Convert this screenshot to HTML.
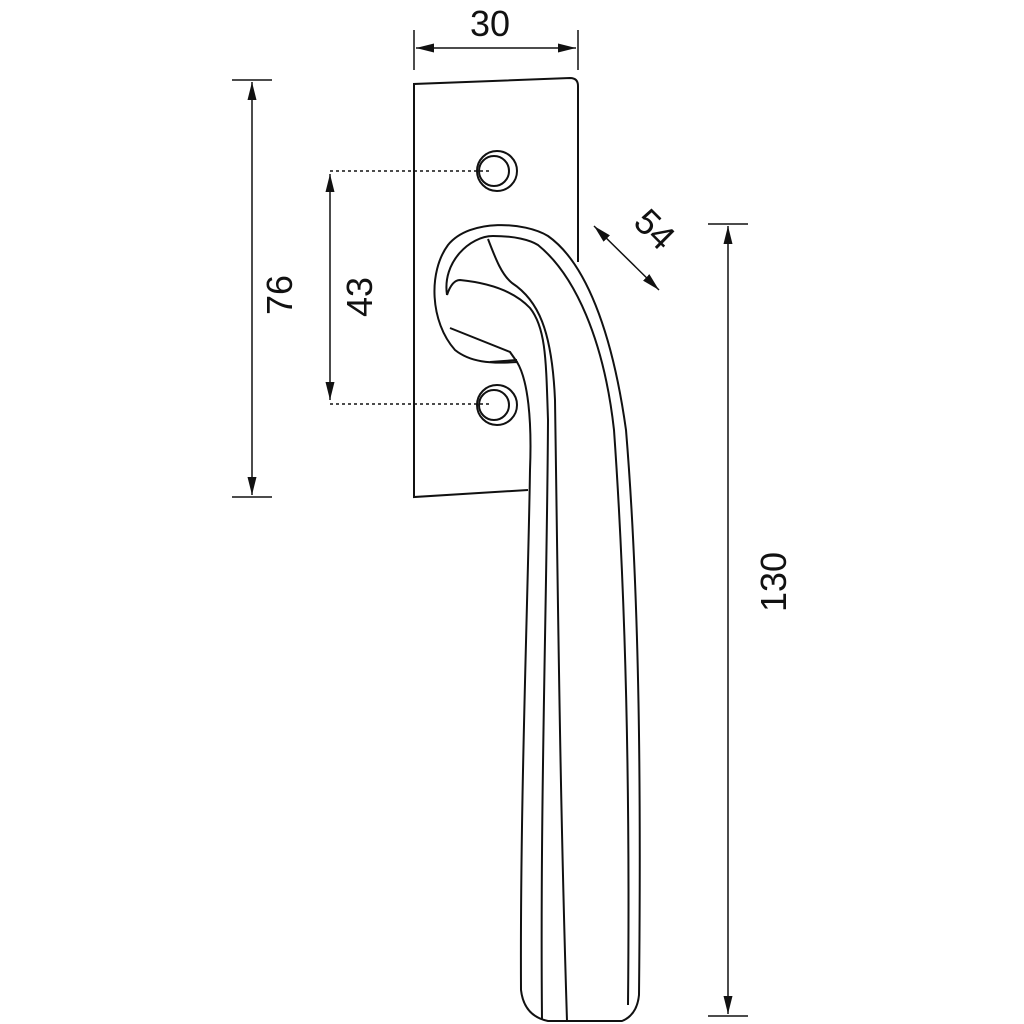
<!DOCTYPE html>
<html><head><style>html,body{margin:0;padding:0;background:#fff}svg{display:block}</style></head><body>
<svg width="1024" height="1024" viewBox="0 0 1024 1024" xmlns="http://www.w3.org/2000/svg">
<defs>
<marker id="b" viewBox="0 0 18 10" refX="18" refY="5" markerWidth="18" markerHeight="10" markerUnits="userSpaceOnUse" orient="auto-start-reverse">
<path d="M0,0.5 L18,5 L0,9.5 Z" fill="#111"/></marker>
</defs>
<g fill="none" stroke="#111" stroke-width="2">
<path d="M578,262 L578,86 Q578,78 570,78 L414,84 L414,497 L528,490"/>
<circle cx="497" cy="171" r="20"/><circle cx="494" cy="171" r="15"/>
<circle cx="497" cy="405" r="20"/><circle cx="494" cy="405" r="15"/>
<path fill="#fff" d="M521,990 Q524,1016 548,1021 L622,1021 Q637,1015 639,995 C641,800 640,600 626,430 C612,330 585,262 548,236 C525,222 470,218 448,245 C428,272 430,322 455,350 C470,362 490,364 517,362 C528,380 532,420 530,470 C528,600 520,800 521,990 Z"/>
<path d="M447,295 C442,262 470,236 493,236 C515,236 530,240 538,245 C575,275 604,340 614,430 C626,600 630,800 628,1005"/>
<path d="M488,239 C496,260 502,275 512,283 C538,300 552,330 555,400 C558,600 560,800 567,1021"/>
<path d="M447,295 Q452,280 460,280 C490,283 515,292 530,308 C546,328 546,360 548,420 C547,600 540,800 542,1020"/>
<path d="M450,328 L510,352 L517,362"/>
<path d="M490,362 L517,360"/>
</g>
<g stroke="#111" stroke-width="1.5" fill="none">
<line x1="414" y1="30" x2="414" y2="70"/><line x1="578" y1="30" x2="578" y2="70"/>
<line x1="416" y1="48" x2="576" y2="48" marker-start="url(#b)" marker-end="url(#b)"/>
<line x1="232" y1="80" x2="272" y2="80"/><line x1="232" y1="497" x2="272" y2="497"/>
<line x1="252" y1="82" x2="252" y2="495" marker-start="url(#b)" marker-end="url(#b)"/>
<line x1="330" y1="174" x2="330" y2="400" marker-start="url(#b)" marker-end="url(#b)"/>
<line x1="330" y1="171" x2="492" y2="171" stroke-dasharray="3,3"/>
<line x1="330" y1="404" x2="492" y2="404" stroke-dasharray="3,3"/>
<line x1="708" y1="224" x2="748" y2="224"/><line x1="708" y1="1016" x2="748" y2="1016"/>
<line x1="728" y1="226" x2="728" y2="1014" marker-start="url(#b)" marker-end="url(#b)"/>
<line x1="594" y1="226" x2="659" y2="290" marker-start="url(#b)" marker-end="url(#b)"/>
</g>
<g font-family="Liberation Sans, sans-serif" font-size="36" fill="#111" text-anchor="middle">
<text x="490" y="36">30</text>
<text transform="translate(292,295) rotate(-90)">76</text>
<text transform="translate(372,297) rotate(-90)">43</text>
<text transform="translate(786,582) rotate(-90)">130</text>
<text transform="translate(646,238) rotate(45)">54</text>
</g>
</svg>
</body></html>
